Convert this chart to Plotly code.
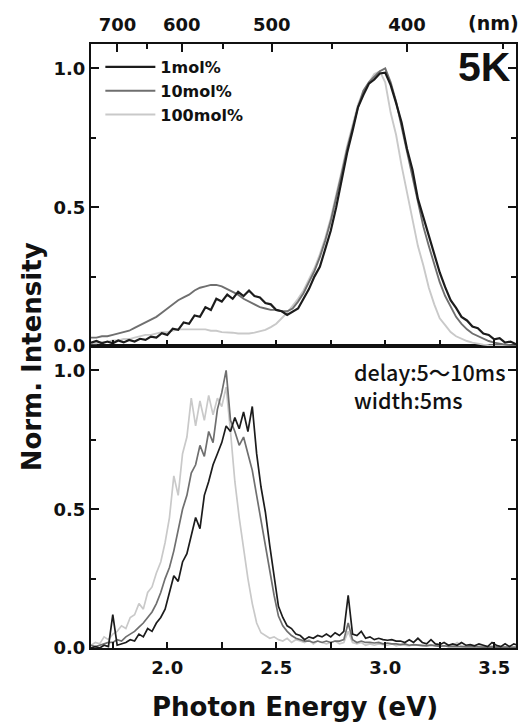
import plotly.graph_objects as go

# ---------------- data ----------------
E_TOP = [1.65, 1.675, 1.7, 1.725, 1.75, 1.775, 1.8, 1.825, 1.85, 1.875,
         1.9, 1.925, 1.95, 1.975, 2.0, 2.025, 2.05, 2.075, 2.1, 2.125,
         2.15, 2.175, 2.2, 2.225, 2.25, 2.275, 2.3, 2.325, 2.35, 2.375,
         2.4, 2.425, 2.45, 2.475, 2.5, 2.525, 2.55, 2.575, 2.6, 2.625,
         2.65, 2.675, 2.7, 2.725, 2.75, 2.775, 2.8, 2.825, 2.85, 2.875,
         2.9, 2.925, 2.95, 2.975, 3.0, 3.025, 3.05, 3.075, 3.1, 3.125,
         3.15, 3.175, 3.2, 3.225, 3.25, 3.275, 3.3, 3.325, 3.35, 3.375,
         3.4, 3.425, 3.45, 3.475, 3.5, 3.525, 3.55, 3.575, 3.6]

TOP_1MOL = [0.012, 0.018, 0.01, 0.016, 0.01, 0.02, 0.013, 0.022, 0.016, 0.026,
            0.022, 0.034, 0.03, 0.046, 0.04, 0.062, 0.058, 0.085, 0.08, 0.11,
            0.105, 0.14, 0.13, 0.17, 0.16, 0.185, 0.17, 0.195, 0.18, 0.2,
            0.18, 0.175, 0.155, 0.15, 0.13, 0.125, 0.112, 0.122, 0.135, 0.17,
            0.205, 0.25, 0.285, 0.35, 0.415, 0.5, 0.595, 0.695, 0.775, 0.86,
            0.905, 0.945, 0.96, 0.982, 0.985, 0.94, 0.875, 0.805, 0.71, 0.635,
            0.53, 0.465, 0.395, 0.335, 0.265, 0.212, 0.165, 0.137, 0.105, 0.092,
            0.07, 0.064, 0.045, 0.04, 0.024, 0.028, 0.012, 0.016, 0.006]

TOP_10MOL = [0.03, 0.03, 0.035, 0.035, 0.04, 0.045, 0.05, 0.055, 0.065, 0.075,
             0.085, 0.095, 0.105, 0.12, 0.135, 0.15, 0.165, 0.175, 0.185, 0.2,
             0.21, 0.215, 0.22, 0.22, 0.215, 0.205, 0.195, 0.185, 0.17, 0.16,
             0.15, 0.14, 0.135, 0.13, 0.13, 0.125, 0.125, 0.135, 0.16, 0.19,
             0.23, 0.27, 0.32, 0.38, 0.45, 0.53, 0.62, 0.71, 0.79, 0.86,
             0.92, 0.95, 0.97, 0.99, 1.0, 0.95, 0.88, 0.79, 0.70, 0.60,
             0.51, 0.43, 0.36, 0.29, 0.23, 0.18, 0.14, 0.105, 0.08, 0.06,
             0.045, 0.035, 0.025, 0.018, 0.012, 0.008, 0.005, 0.003, 0.002]

TOP_100MOL = [0.01, 0.01, 0.015, 0.015, 0.02, 0.02, 0.025, 0.025, 0.03, 0.035,
              0.04, 0.04, 0.045, 0.05, 0.05, 0.055, 0.06, 0.06, 0.06, 0.06,
              0.06, 0.06, 0.055, 0.055, 0.05, 0.05, 0.048, 0.045, 0.045, 0.045,
              0.048, 0.052, 0.058, 0.068, 0.08, 0.10, 0.12, 0.145, 0.17, 0.20,
              0.24, 0.28, 0.33, 0.39, 0.46, 0.54, 0.63, 0.72, 0.80, 0.87,
              0.92, 0.95, 0.98, 0.99, 0.95, 0.84, 0.76, 0.65, 0.55, 0.45,
              0.36, 0.29, 0.21, 0.15, 0.10, 0.075, 0.05, 0.035, 0.025, 0.018,
              0.012, 0.008, 0.005, 0.003, 0.002, 0.001, 0.001, 0.0, 0.0]

E_BOT = [1.65, 1.67, 1.69, 1.71, 1.73, 1.75, 1.77, 1.79, 1.81, 1.83,
         1.85, 1.87, 1.89, 1.91, 1.93, 1.95, 1.97, 1.99, 2.01, 2.03,
         2.05, 2.07, 2.09, 2.11, 2.13, 2.15, 2.17, 2.19, 2.21, 2.23,
         2.25, 2.27, 2.29, 2.31, 2.33, 2.35, 2.37, 2.39, 2.41, 2.43,
         2.45, 2.47, 2.49, 2.51, 2.53, 2.55, 2.57, 2.59, 2.61, 2.63,
         2.65, 2.67, 2.69, 2.71, 2.73, 2.75, 2.77, 2.79, 2.81, 2.83,
         2.85, 2.87, 2.89, 2.91, 2.93, 2.95, 2.97, 2.99, 3.01, 3.03,
         3.05, 3.07, 3.09, 3.11, 3.13, 3.15, 3.17, 3.19, 3.21, 3.23,
         3.25, 3.27, 3.29, 3.31, 3.33, 3.35, 3.37, 3.39, 3.41, 3.43,
         3.45, 3.47, 3.49, 3.51, 3.53, 3.55, 3.57, 3.59, 3.61]

BOT_1MOL = [0.0, 0.005, 0.0, 0.01, 0.005, 0.12, 0.01, 0.015, 0.02, 0.03,
            0.025, 0.05, 0.04, 0.07, 0.06, 0.09, 0.11, 0.14, 0.2, 0.26,
            0.24, 0.31, 0.34, 0.41, 0.47, 0.43, 0.55, 0.6, 0.66, 0.70,
            0.74, 0.80, 0.78, 0.83, 0.79, 0.85, 0.78, 0.87, 0.70, 0.58,
            0.49, 0.37, 0.25, 0.15, 0.11, 0.08, 0.07, 0.05, 0.045, 0.03,
            0.04, 0.035, 0.045, 0.04, 0.05, 0.04, 0.055, 0.045, 0.06, 0.19,
            0.05, 0.045, 0.06, 0.035, 0.04, 0.03, 0.035, 0.03, 0.028, 0.03,
            0.025, 0.025, 0.02, 0.03, 0.02, 0.035, 0.02, 0.015, 0.03, 0.015,
            0.012, 0.02, 0.01, 0.015, 0.01, 0.02, 0.01, 0.012, 0.008, 0.015,
            0.01, 0.005, 0.02, 0.01, 0.005, 0.015, 0.005, 0.015, 0.01]

BOT_10MOL = [0.01, 0.005, 0.01, 0.015, 0.02, 0.02, 0.03, 0.025, 0.04, 0.05,
             0.06, 0.075, 0.09, 0.11, 0.13, 0.16, 0.2, 0.25, 0.29, 0.35,
             0.42, 0.5, 0.55, 0.63, 0.66, 0.73, 0.69, 0.78, 0.74, 0.86,
             0.92, 1.0, 0.82, 0.78, 0.73, 0.76, 0.70, 0.64, 0.55, 0.46,
             0.36, 0.28, 0.19, 0.115, 0.08, 0.06, 0.045, 0.035, 0.03, 0.025,
             0.025, 0.02, 0.025, 0.02, 0.025, 0.02, 0.025, 0.025, 0.03, 0.09,
             0.03, 0.02, 0.025, 0.02, 0.02, 0.018, 0.02, 0.015, 0.018, 0.015,
             0.015, 0.012, 0.015, 0.01, 0.012, 0.01, 0.01, 0.008, 0.01, 0.008,
             0.006, 0.008, 0.005, 0.006, 0.005, 0.006, 0.004, 0.005, 0.004, 0.005,
             0.003, 0.004, 0.003, 0.004, 0.003, 0.003, 0.002, 0.003, 0.002]

BOT_100MOL = [0.01, 0.02, 0.015, 0.04, 0.03, 0.05, 0.06, 0.08, 0.07, 0.11,
              0.12, 0.16, 0.14, 0.2, 0.22, 0.27, 0.31, 0.38, 0.47, 0.62,
              0.55, 0.7, 0.76, 0.90, 0.8, 0.89, 0.82, 0.91, 0.84, 0.9,
              0.87, 0.94, 0.78, 0.6, 0.47, 0.36, 0.25, 0.16, 0.09, 0.055,
              0.045, 0.035, 0.04, 0.03, 0.025, 0.035, 0.02, 0.03, 0.025, 0.02,
              0.03, 0.015, 0.025, 0.02, 0.015, 0.02, 0.025, 0.015, 0.02, 0.06,
              0.02, 0.015, 0.02, 0.01, 0.015, 0.01, 0.015, 0.012, 0.01, 0.015,
              0.008, 0.012, 0.01, 0.008, 0.012, 0.01, 0.008, 0.01, 0.012, 0.008,
              0.01, 0.006, 0.01, 0.008, 0.02, 0.008, 0.006, 0.01, 0.005, 0.008,
              0.006, 0.004, 0.008, 0.005, 0.006, 0.004, 0.006, 0.004, 0.005]

SERIES_NAMES = ["1mol%", "10mol%", "100mol%"]
SERIES_COLORS = ["#1c1c1c", "#6f6f6f", "#c9c9c9"]

NM_MAJOR = [700, 600, 500, 400]
NM_MINOR = [650, 550, 450, 350]
HC = 1239.84  # eV*nm

X_RANGE = [1.65, 3.6]
Y_RANGE = [0, 1.088]

# ---------------- figure ----------------
fig = go.Figure()

top = [TOP_1MOL, TOP_10MOL, TOP_100MOL]
bot = [BOT_1MOL, BOT_10MOL, BOT_100MOL]
top_w = [2.2, 1.9, 1.9]
# draw lightest first so black ends on top
for k in [2, 1, 0]:
    fig.add_trace(go.Scatter(x=E_TOP, y=top[k], mode="lines", name=SERIES_NAMES[k],
                             line=dict(color=SERIES_COLORS[k], width=top_w[k]),
                             xaxis="x2", yaxis="y2", legendrank=k + 1))
for k in [2, 1, 0]:
    fig.add_trace(go.Scatter(x=E_BOT, y=bot[k], mode="lines", name=SERIES_NAMES[k],
                             line=dict(color=SERIES_COLORS[k], width=1.7),
                             xaxis="x", yaxis="y", showlegend=False))
# empty trace so the wavelength (top) axis gets its own subplot drawn
fig.add_trace(go.Scatter(x=[None], y=[None], mode="lines", xaxis="x3", yaxis="y2",
                         showlegend=False, hoverinfo="skip"))

TICKFONT = dict(family="DejaVu Sans, sans-serif", size=18, color="#111", weight="bold")
TITLEFONT = dict(family="DejaVu Sans, sans-serif", size=26, color="#111", weight="bold")
NOTEFONT = dict(family="Noto Sans CJK JP, sans-serif", size=21.5, color="#111", weight=500)

common_x = dict(range=X_RANGE, showline=True, linecolor="#111", linewidth=2,
                ticks="inside", ticklen=6, tickwidth=1.5, tickcolor="#111",
                tick0=0, dtick=0.5, tickformat=".1f", showgrid=False, zeroline=False,
                minor=dict(ticks="inside", dtick=0.25, tick0=0, ticklen=6, tickwidth=1.5,
                           tickcolor="#111", showgrid=False),
                tickfont=TICKFONT)
common_y = dict(range=Y_RANGE, showline=True, linecolor="#111", linewidth=2, mirror="ticks",
                ticks="inside", ticklen=8, tickwidth=1.5, tickcolor="#111",
                tick0=0, dtick=0.5, tickformat=".1f", showgrid=False, zeroline=False,
                minor=dict(ticks="inside", dtick=0.25, tick0=0, ticklen=5, tickwidth=1.5,
                           tickcolor="#111", showgrid=False),
                tickfont=TICKFONT, ticklabelstandoff=0)

fig.update_layout(
    width=520, height=722,
    margin=dict(l=91, r=2, t=44, b=74),
    paper_bgcolor="white", plot_bgcolor="white",
    showlegend=True,
    legend=dict(x=0.022, y=0.99, xanchor="left", yanchor="top",
                bgcolor="rgba(0,0,0,0)", borderwidth=0, tracegroupgap=0,
                font=dict(family="DejaVu Sans, sans-serif", size=16,
                          color="#111", weight="bold"),
                itemwidth=50),
    xaxis=dict(domain=[0, 1], anchor="y", mirror=True, ticklabelstandoff=2, **common_x),
    xaxis2=dict(domain=[0, 1], anchor="y2", matches="x", showticklabels=False,
                mirror=True, **common_x),
    xaxis3=dict(domain=[0, 1], anchor="y2", overlaying="x2", side="top",
                range=X_RANGE, showline=True, linecolor="#111", linewidth=2,
                tickmode="array", tickvals=[HC / nm for nm in NM_MAJOR],
                ticktext=[str(nm) for nm in NM_MAJOR],
                ticks="inside", ticklen=8, tickwidth=1.5, tickcolor="#111",
                minor=dict(tickmode="array", tickvals=[HC / nm for nm in NM_MINOR],
                           ticks="inside", ticklen=5, tickwidth=1.5, tickcolor="#111",
                           showgrid=False),
                showgrid=False, zeroline=False, tickfont=TICKFONT, ticklabelstandoff=4),
    yaxis=dict(domain=[0, 0.5], anchor="x", **common_y),
    yaxis2=dict(domain=[0.5, 1], anchor="x2", **common_y),
)

annos = [
    dict(text="5K", x=0.992, y=1.004, xref="paper", yref="paper", xanchor="right", yanchor="top",
         showarrow=False, font=dict(family="Liberation Sans, Arial, sans-serif", size=41,
                                    color="#111", weight="bold")),
    dict(text="delay:5〜10ms<br>width:5ms", x=0.613, y=0.486, xref="paper", yref="paper",
         xanchor="left", yanchor="top", align="left", showarrow=False, font=NOTEFONT),
    dict(text="(nm)", x=0.948, y=1.035, xref="paper", yref="paper", xanchor="center",
         yanchor="middle", showarrow=False,
         font=dict(family="DejaVu Sans, sans-serif", size=19, color="#111", weight="bold")),
    dict(text="Photon Energy (eV)", x=0.48, y=-0.098, xref="paper", yref="paper",
         xanchor="center", yanchor="middle", showarrow=False, font=TITLEFONT),
    dict(text="Norm. Intensity", x=-0.14, y=0.482, xref="paper", yref="paper",
         xanchor="center", yanchor="middle", textangle=-90, showarrow=False, font=TITLEFONT),
]
fig.update_layout(annotations=annos)

fig.write_html("out.html", config={"displayModeBar": False},
               post_script="document.body.style.margin='0';document.body.style.overflow='hidden';")
